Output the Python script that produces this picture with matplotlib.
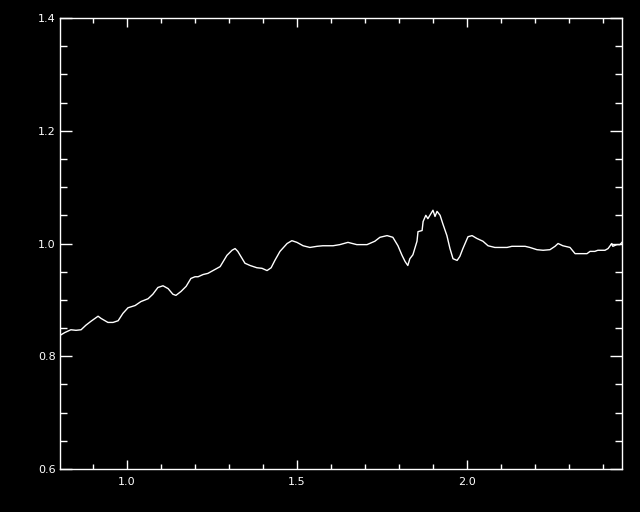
import matplotlib
matplotlib.use("Agg")
import matplotlib.pyplot as plt
from matplotlib.ticker import MultipleLocator

# spectrum
wave = [0.803, 0.817, 0.835, 0.850, 0.865, 0.879, 0.894, 0.915, 0.924, 0.944,
        0.959, 0.974, 0.988, 1.003, 1.024, 1.041, 1.062, 1.076, 1.091, 1.106,
        1.121, 1.135, 1.144, 1.159, 1.174, 1.188, 1.200, 1.209, 1.224, 1.238,
        1.244, 1.274, 1.294, 1.309, 1.318, 1.326, 1.347, 1.362, 1.382, 1.397,
        1.412, 1.424, 1.435, 1.450, 1.471, 1.485, 1.500, 1.518, 1.538, 1.559,
        1.576, 1.606, 1.626, 1.650, 1.676, 1.706, 1.729, 1.744, 1.765, 1.782,
        1.797, 1.809, 1.818, 1.826, 1.832, 1.841, 1.853, 1.856, 1.868, 1.871,
        1.879, 1.885, 1.894, 1.900, 1.906, 1.912, 1.921, 1.929, 1.941, 1.950,
        1.959, 1.971, 1.979, 1.988, 2.003, 2.015, 2.029, 2.047, 2.062, 2.082,
        2.097, 2.118, 2.132, 2.147, 2.171, 2.185, 2.206, 2.224, 2.244, 2.259,
        2.268, 2.282, 2.303, 2.318, 2.332, 2.353, 2.362, 2.376, 2.385, 2.397,
        2.406, 2.415, 2.426, 2.429, 2.441, 2.450, 2.459]
flux = [0.837, 0.842, 0.847, 0.846, 0.847, 0.855, 0.862, 0.871, 0.867, 0.860,
        0.860, 0.863, 0.876, 0.886, 0.890, 0.897, 0.902, 0.910, 0.922, 0.925,
        0.920, 0.910, 0.908, 0.915, 0.924, 0.938, 0.941, 0.941, 0.945, 0.947,
        0.949, 0.959, 0.979, 0.988, 0.991, 0.986, 0.965, 0.961, 0.957, 0.956,
        0.952, 0.957, 0.970, 0.986, 1.000, 1.005, 1.002, 0.996, 0.993, 0.995,
        0.996, 0.996, 0.998, 1.002, 0.998, 0.998, 1.004, 1.011, 1.014, 1.011,
        0.996, 0.979, 0.968, 0.961, 0.973, 0.980, 1.004, 1.021, 1.023, 1.039,
        1.050, 1.044, 1.053, 1.059, 1.048, 1.057, 1.050, 1.035, 1.014, 0.991,
        0.973, 0.970, 0.977, 0.991, 1.012, 1.014, 1.009, 1.004, 0.996, 0.993,
        0.993, 0.993, 0.995, 0.995, 0.995, 0.993, 0.989, 0.988, 0.989, 0.995,
        1.000, 0.996, 0.993, 0.982, 0.982, 0.982, 0.986, 0.986, 0.988, 0.988,
        0.988, 0.991, 1.000, 0.995, 0.998, 0.998, 1.004]

xticks = [1.0, 1.5, 2.0]
yticks = [0.6, 0.8, 1.0, 1.2, 1.4]

fig = plt.figure(figsize=(6.4, 5.12), dpi=100, facecolor="black")
ax = fig.add_axes([60 / 640, 43 / 512, 562 / 640, 451 / 512], facecolor="black")

ax.plot(wave, flux, color="white", lw=1.0)

ax.set_xlim(0.803, 2.456)
ax.set_ylim(0.6, 1.4)
ax.set_xticks(xticks)
ax.set_yticks(yticks)
ax.set_xticklabels(["%.1f" % v for v in xticks])
ax.set_yticklabels(["%.1f" % v for v in yticks])
ax.xaxis.set_minor_locator(MultipleLocator(0.1))
ax.yaxis.set_minor_locator(MultipleLocator(0.05))

for s in ax.spines.values():
    s.set_color("white")
    s.set_linewidth(1.0)

ax.tick_params(axis="both", which="both", direction="in", colors="white",
               top=True, right=True, width=1.0, labelsize=8)
ax.tick_params(axis="x", which="major", length=6.5, pad=6)
ax.tick_params(axis="x", which="minor", length=3.6)
ax.tick_params(axis="y", which="major", length=8.6, pad=3)
ax.tick_params(axis="y", which="minor", length=5)

fig.savefig("out.png", dpi=100, facecolor="black")
